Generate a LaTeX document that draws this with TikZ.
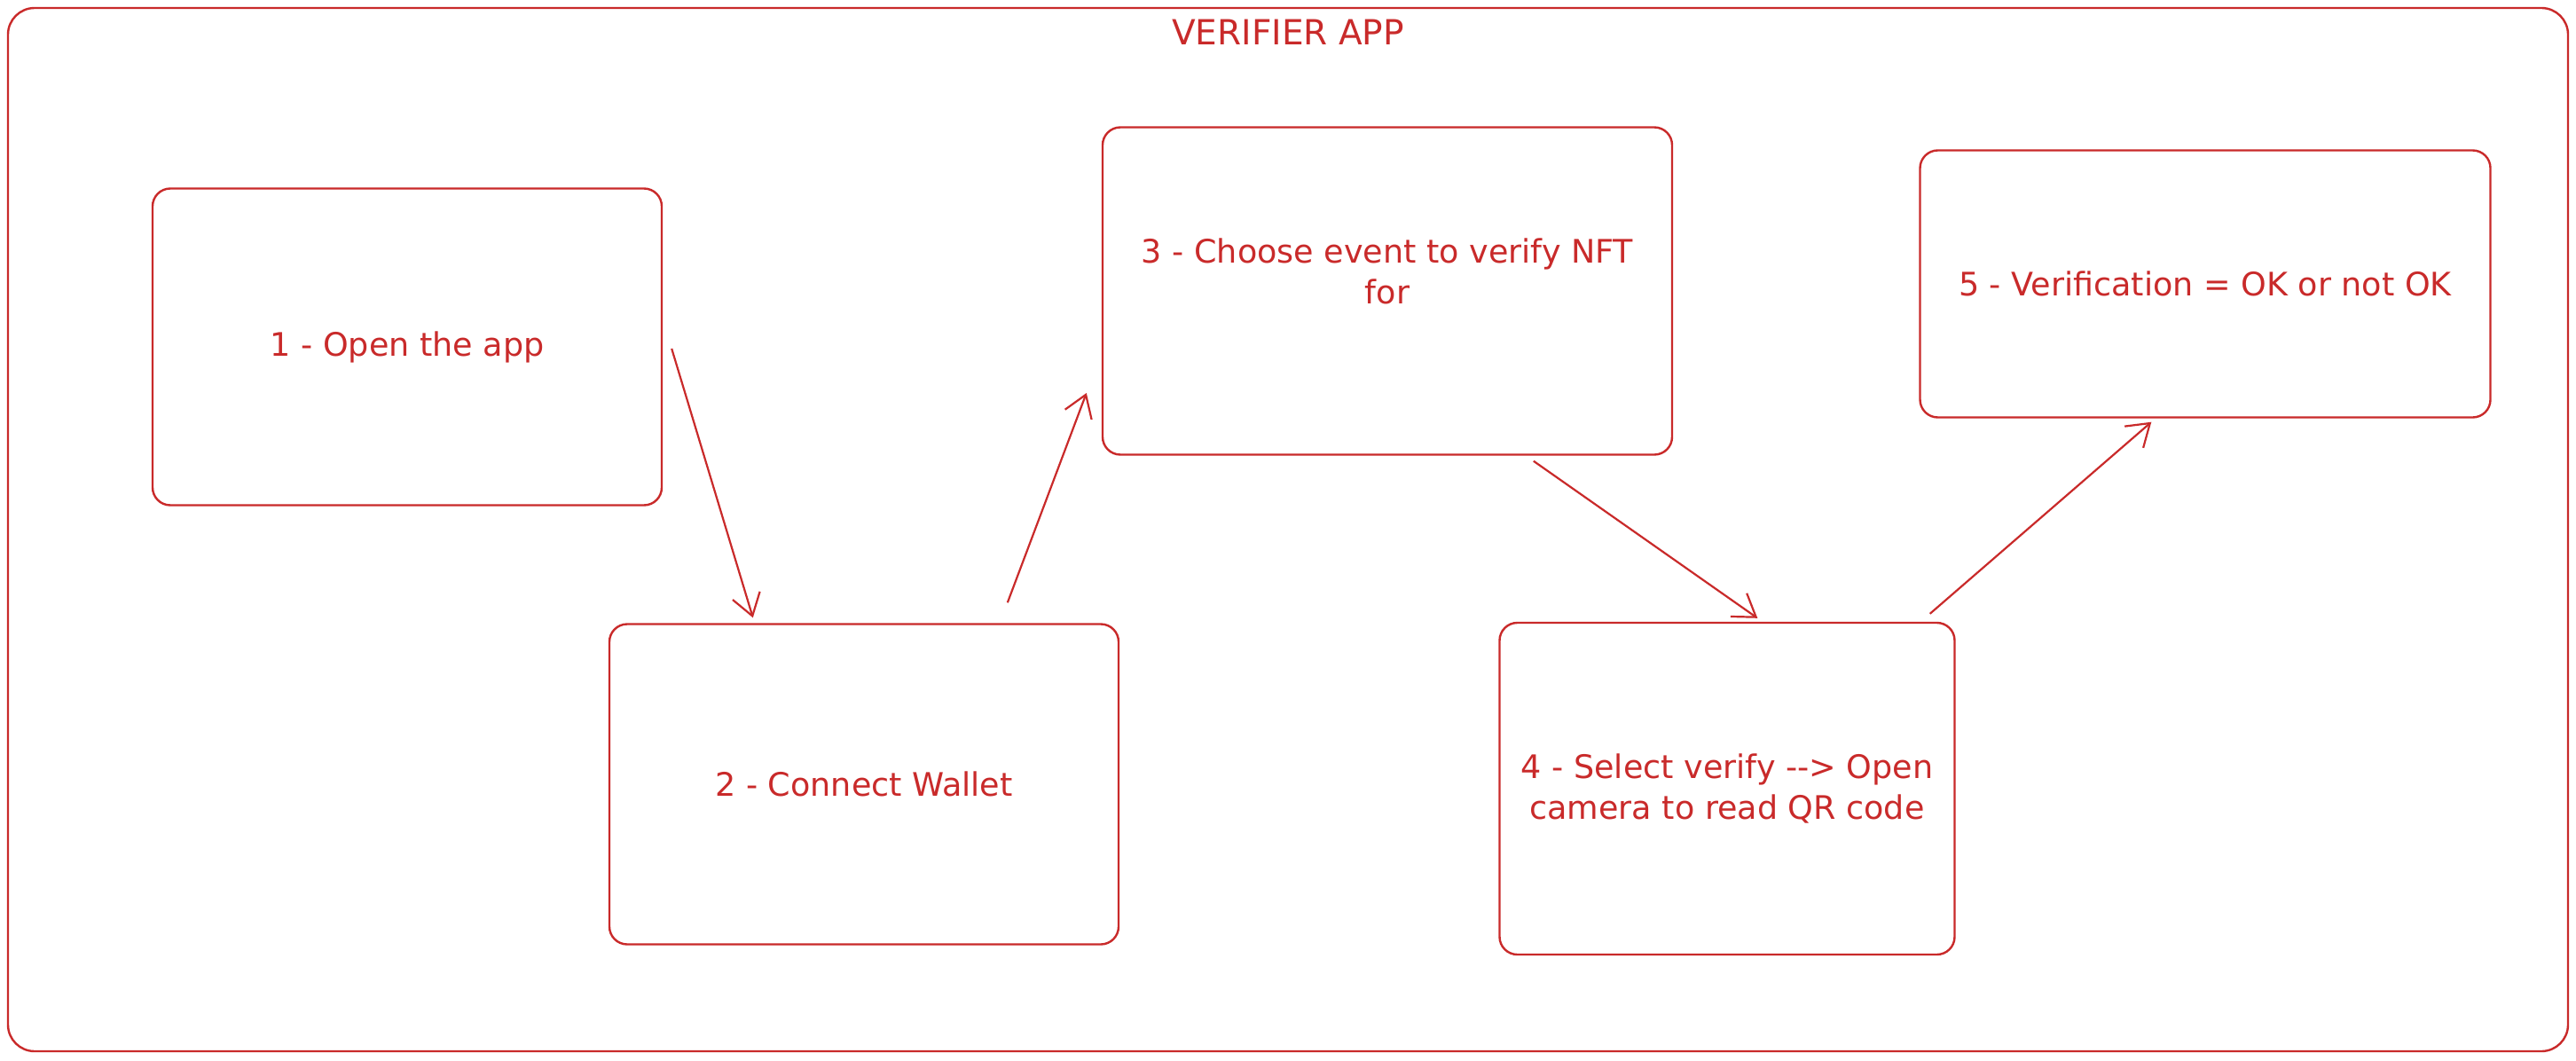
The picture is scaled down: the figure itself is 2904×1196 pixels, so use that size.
\documentclass[tikz,border=0pt]{standalone}
\usepackage{fontspec}
\setmainfont{DejaVu Sans}
\usetikzlibrary{arrows.meta,calc}
\definecolor{sketchred}{HTML}{C92A2A}
\begin{document}
\begin{tikzpicture}[x=1pt,y=-1pt,
  box/.style={draw=sketchred, line width=2.4pt, rounded corners=20pt, inner sep=0pt,
    text=sketchred, align=center, font=\fontsize{36.5}{46}\selectfont},
  flow/.style={draw=sketchred, line width=2.2pt, -{Straight Barb[length=24pt,width=32pt,line width=2.2pt]}},
  title/.style={text=sketchred, font=\fontsize{39}{44}\selectfont}]
\useasboundingbox (0,0) rectangle (2904,1196);
\fill[white] (0,0) rectangle (2904,1196);
\node[draw=sketchred, line width=2.4pt, rounded corners=30pt, minimum width=2886pt, minimum height=1176pt, inner sep=0pt] (frame) at (1452,597) {};
\node[title] (ttl) at (1452,36) {VERIFIER APP};
\node[box, minimum width=574pt, minimum height=357pt] (b1) at (459,391) {1 - Open the app};
\node[box, minimum width=574pt, minimum height=361pt] (b2) at (974,884) {2 - Connect Wallet};
\node[box, minimum width=642pt, minimum height=369pt] (b3) at (1564,328) {};
\node[text=sketchred, align=center, font=\fontsize{36.5}{46}\selectfont] (t3) at (1564,306) {3 - Choose event to verify NFT\\for};
\node[box, minimum width=513pt, minimum height=374pt] (b4) at (1947,889) {4 - Select verify -{}-{}> Open\\camera to read QR code};
\node[box, minimum width=643pt, minimum height=301pt] (b5) at (2486,320) {5 - Verif{}ication = OK or not OK};
\coordinate (a1s) at ($(b1.east)+(10,2)$);
\coordinate (a1e) at ($(b2.north west)+(163,-6)$);
\coordinate (a2s) at ($(b2.north west)+(450,-23)$);
\coordinate (a2e) at ($(b3.west)+(-17,115)$);
\coordinate (a3s) at ($(b3.south west)+(487,6)$);
\coordinate (a3e) at ($(b4.north west)+(292,-4)$);
\coordinate (a4s) at ($(b4.north east)+(-29,-9)$);
\coordinate (a4e) at ($(b5.south west)+(262,4)$);
\draw[flow] (a1s) -- (a1e);
\draw[flow] (a2s) -- (a2e);
\draw[flow] (a3s) -- (a3e);
\draw[flow] (a4s) -- (a4e);
\end{tikzpicture}
\end{document}
